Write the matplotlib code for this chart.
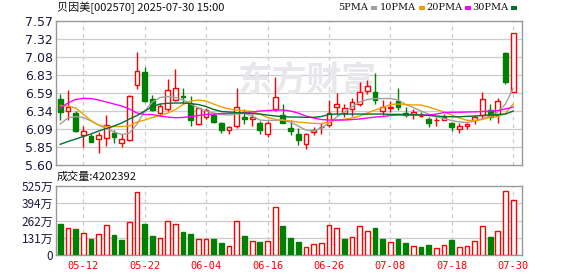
import matplotlib
matplotlib.use("Agg")
import matplotlib.pyplot as plt
from matplotlib.patches import Rectangle
import numpy as np

# dados (60 pregoes, 2025-05-07 .. 2025-07-30)
open_ = [6.50, 6.34, 6.31, 6.01, 6.00, 5.96, 5.97, 6.04, 5.90, 5.94,
         6.70, 6.87, 6.50, 6.31, 6.36, 6.49, 6.54, 6.44, 6.16, 6.25,
         6.28, 6.17, 6.08, 6.13, 6.25, 6.23, 6.18, 6.02, 6.36, 6.28,
         6.10, 6.02, 5.89, 6.05, 6.12, 6.15, 6.40, 6.31, 6.36, 6.44,
         6.61, 6.60, 6.34, 6.38, 6.47, 6.31, 6.30, 6.27, 6.23, 6.21,
         6.22, 6.18, 6.09, 6.13, 6.21, 6.28, 6.35, 6.28, 7.13, 6.60]
high = [6.57, 6.63, 6.34, 6.13, 6.03, 6.05, 6.29, 6.08, 6.03, 6.56,
        7.14, 6.94, 6.56, 6.44, 6.77, 6.91, 6.66, 6.54, 6.39, 6.38,
        6.31, 6.19, 6.13, 6.66, 6.36, 6.30, 6.20, 6.20, 6.81, 6.43,
        6.22, 6.10, 6.04, 6.12, 6.18, 6.49, 6.58, 6.43, 6.51, 6.74,
        6.76, 6.86, 6.49, 6.48, 6.65, 6.39, 6.36, 6.32, 6.26, 6.26,
        6.30, 6.19, 6.17, 6.18, 6.29, 6.60, 6.44, 6.51, 7.15, 7.40]
low = [6.22, 6.22, 6.05, 5.85, 5.91, 5.77, 5.86, 5.90, 5.84, 5.93,
       6.64, 6.46, 6.34, 6.28, 6.34, 6.47, 6.44, 6.13, 6.15, 6.23,
       6.18, 6.04, 6.03, 6.10, 6.16, 6.14, 6.03, 5.98, 6.34, 6.17,
       6.01, 5.88, 5.82, 6.01, 6.03, 6.12, 6.28, 6.26, 6.27, 6.41,
       6.57, 6.44, 6.28, 6.33, 6.35, 6.25, 6.23, 6.25, 6.12, 6.13,
       6.21, 6.07, 6.04, 6.09, 6.16, 6.23, 6.22, 6.17, 6.71, 6.60]
close = [6.33, 6.39, 6.06, 6.07, 5.92, 6.01, 6.15, 5.98, 5.96, 6.55,
         6.88, 6.48, 6.35, 6.41, 6.62, 6.65, 6.53, 6.22, 6.38, 6.35,
         6.19, 6.08, 6.12, 6.39, 6.23, 6.26, 6.08, 6.17, 6.53, 6.18,
         6.06, 5.94, 6.02, 6.08, 6.125, 6.31, 6.43, 6.38, 6.46, 6.60,
         6.68, 6.49, 6.39, 6.39, 6.39, 6.28, 6.33, 6.27, 6.18, 6.22,
         6.25, 6.12, 6.14, 6.16, 6.25, 6.50, 6.25, 6.48, 6.73, 7.40]

ma5 = [6.161, 6.243, 6.263, 6.250, 6.202, 6.147, 6.099, 6.051, 6.017, 6.037,
       6.161, 6.338, 6.462, 6.523, 6.537, 6.523, 6.489, 6.434, 6.379, 6.338,
       6.311, 6.291, 6.284, 6.297, 6.307, 6.270, 6.215, 6.208, 6.211, 6.215,
       6.188, 6.133, 6.078, 6.065, 6.106, 6.174, 6.256, 6.325, 6.393, 6.462,
       6.496, 6.509, 6.509, 6.509, 6.489, 6.427, 6.386, 6.338, 6.297, 6.260,
       6.236, 6.208, 6.188, 6.181, 6.202, 6.236, 6.270, 6.325, 6.434, 6.649]
ma10 = [6.414, 6.407, 6.379, 6.297, 6.208, 6.147, 6.126, 6.126, 6.126, 6.133,
        6.188, 6.215, 6.250, 6.277, 6.311, 6.359, 6.427, 6.475, 6.489, 6.475,
        6.434, 6.393, 6.366, 6.352, 6.342, 6.332, 6.297, 6.250, 6.225, 6.215,
        6.202, 6.188, 6.178, 6.170, 6.167, 6.188, 6.215, 6.225, 6.243, 6.270,
        6.311, 6.352, 6.386, 6.427, 6.434, 6.427, 6.421, 6.421, 6.393, 6.359,
        6.325, 6.284, 6.243, 6.211, 6.208, 6.222, 6.256, 6.260, 6.307, 6.434]
ma20 = [6.379, 6.448, 6.496, 6.512, 6.509, 6.489, 6.462, 6.434, 6.407, 6.366,
        6.311, 6.291, 6.291, 6.270, 6.256, 6.247, 6.250, 6.263, 6.277, 6.291,
        6.297, 6.304, 6.307, 6.311, 6.315, 6.325, 6.338, 6.345, 6.352, 6.352,
        6.338, 6.311, 6.270, 6.243, 6.222, 6.215, 6.215, 6.215, 6.222, 6.229,
        6.243, 6.256, 6.263, 6.277, 6.284, 6.284, 6.284, 6.284, 6.284, 6.297,
        6.318, 6.321, 6.322, 6.325, 6.327, 6.332, 6.338, 6.345, 6.366, 6.393]
ma30 = [5.883, 5.921, 5.955, 5.990, 6.024, 6.065, 6.099, 6.133, 6.174, 6.229,
        6.277, 6.338, 6.400, 6.434, 6.444, 6.448, 6.448, 6.441, 6.427, 6.400,
        6.359, 6.332, 6.325, 6.318, 6.311, 6.304, 6.297, 6.284, 6.270, 6.263,
        6.256, 6.256, 6.252, 6.252, 6.263, 6.291, 6.297, 6.297, 6.297, 6.297,
        6.297, 6.297, 6.297, 6.293, 6.293, 6.291, 6.288, 6.284, 6.277, 6.270,
        6.263, 6.260, 6.260, 6.266, 6.270, 6.277, 6.284, 6.291, 6.297, 6.338]

# volume em 万
volume = [235, 202, 196, 171, 120, 158, 227, 150, 112, 248,
          477, 235, 143, 133, 257, 235, 173, 158, 118, 120,
          120, 89, 72, 257, 143, 105, 97, 105, 364, 219,
          128, 97, 64, 82, 89, 227, 204, 120, 135, 219,
          181, 204, 120, 97, 120, 89, 72, 59, 74, 51,
          74, 112, 59, 66, 105, 219, 135, 181, 487, 420.2]
vol_up = [0, 1, 0, 1, 0, 1, 1, 0, 0, 1,
          1, 0, 0, 1, 1, 1, 0, 0, 1, 1,
          0, 0, 1, 1, 0, 1, 0, 1, 1, 0,
          0, 0, 1, 1, 1, 1, 1, 0, 1, 1,
          1, 0, 0, 1, 0, 0, 1, 0, 0, 1,
          1, 0, 1, 1, 1, 1, 0, 1, 1, 1]

date_pos = [3, 11, 19, 27, 35, 43, 51, 59]
date_lbl = ['05-12', '05-22', '06-04', '06-16', '06-26', '07-08', '07-18', '07-30']
price_lbl = ['5.60', '5.85', '6.09', '6.34', '6.59', '6.83', '7.08', '7.32', '7.57']
vol_lbl = ['0', '131万', '262万', '394万', '525万']

RED = '#ff0000'
GREEN = '#008000'
LBL = '#1a1a40'
GRID = '#cccccc'
FRAME = '#999999'

plt.rcParams['font.family'] = ['Noto Sans CJK SC', 'DejaVu Sans']

fig = plt.figure(figsize=(5.78, 2.76), dpi=100)
ax = fig.add_axes([56 / 578, 1 - 165 / 276, 466 / 578, 144 / 276])
axv = fig.add_axes([56 / 578, 1 - 255 / 276, 466 / 578, 69 / 276])

n = len(close)
x = np.arange(n)
w = 0.62

for a in (ax, axv):
    for s in a.spines.values():
        s.set_color(FRAME)
        s.set_linewidth(1.0)
    a.set_xlim(-0.55, n + 0.15)
    a.tick_params(length=0, pad=2)
    for p in date_pos:
        a.axvline(p, color=GRID, lw=0.9, ls=(0, (3, 3)), zorder=0)

# painel de precos
ymin, ymax = 5.60, 7.57
ax.set_ylim(ymin, ymax)
yt = np.linspace(ymin, ymax, len(price_lbl))
ax.set_yticks(yt, labels=price_lbl)
for v in yt[1:-1]:
    ax.axhline(v, color=GRID, lw=0.9, zorder=0)
ax.set_xticks([])
for t in ax.get_yticklabels():
    t.set_color(LBL)
    t.set_fontfamily('DejaVu Sans')
    t.set_fontsize(9)

ax.text(0.39, 0.59, '东方财富', transform=ax.transAxes, fontsize=25,
        color='#e8e8ec', fontweight='bold', style='italic',
        ha='left', va='center', zorder=0.5)

for i in range(n):
    o, h, l, c = open_[i], high[i], low[i], close[i]
    up = c >= o
    col = RED if up else GREEN
    ax.vlines(x[i], l, h, color=col, lw=1.0, zorder=2)
    body = max(abs(c - o), 0.004)
    ax.add_patch(Rectangle((x[i] - w / 2, min(o, c)), w, body,
                           facecolor='white' if up else GREEN,
                           edgecolor=col, lw=1.0, zorder=3))

ax.plot(x, ma5, color='#a0a0a0', lw=1.0, zorder=4)
ax.plot(x, ma10, color='#f0a000', lw=1.0, zorder=4)
ax.plot(x, ma20, color='#ff00ff', lw=1.0, zorder=4)
ax.plot(x, ma30, color='#006f30', lw=1.0, zorder=4)

# painel de volume
axv.set_ylim(0, 525)
axv.set_yticks([0, 131.25, 262.5, 393.75, 525], labels=vol_lbl)
for v in [131.25, 262.5, 393.75]:
    axv.axhline(v, color=GRID, lw=0.9, zorder=0)
axv.set_xticks(date_pos, labels=date_lbl)
for t in axv.get_yticklabels():
    t.set_color(LBL)
    t.set_fontsize(8.5)
for t in axv.get_xticklabels():
    t.set_color(RED)
    t.set_fontfamily('DejaVu Sans Mono')
    t.set_fontsize(7.5)
axv.tick_params(axis='x', pad=4)

face = ['white' if u else GREEN for u in vol_up]
edge = [RED if u else GREEN for u in vol_up]
axv.bar(x, volume, width=w, color=face, edgecolor=edge, lw=1.0, zorder=3)

# textos do topo
fig.text(57 / 578, 1 - 8 / 276, '贝因美[002570] 2025-07-30 15:00',
         fontsize=8, color='#111111', va='center', ha='left')
fig.text(57 / 578, 1 - 177 / 276, '成交量:4202392',
         fontsize=8, color='#111111', va='center', ha='left')

legend = [('5PMA', '#a0a0a0', 338), ('10PMA', '#f0a000', 380),
          ('20PMA', '#ff00ff', 426), ('30PMA', '#006f30', 472)]
for name, col, px in legend:
    t = fig.text(px / 578, 1 - 8 / 276, name, fontsize=7, color='#111111',
                 va='center', ha='left', family='DejaVu Serif')
    fig.canvas.draw()
    bb = t.get_window_extent()
    fig.patches.append(Rectangle((bb.x1 + 3, 276 - 10), 6, 4, transform=None,
                                 facecolor=col, edgecolor='none'))

fig.savefig('out.png', dpi=100)
